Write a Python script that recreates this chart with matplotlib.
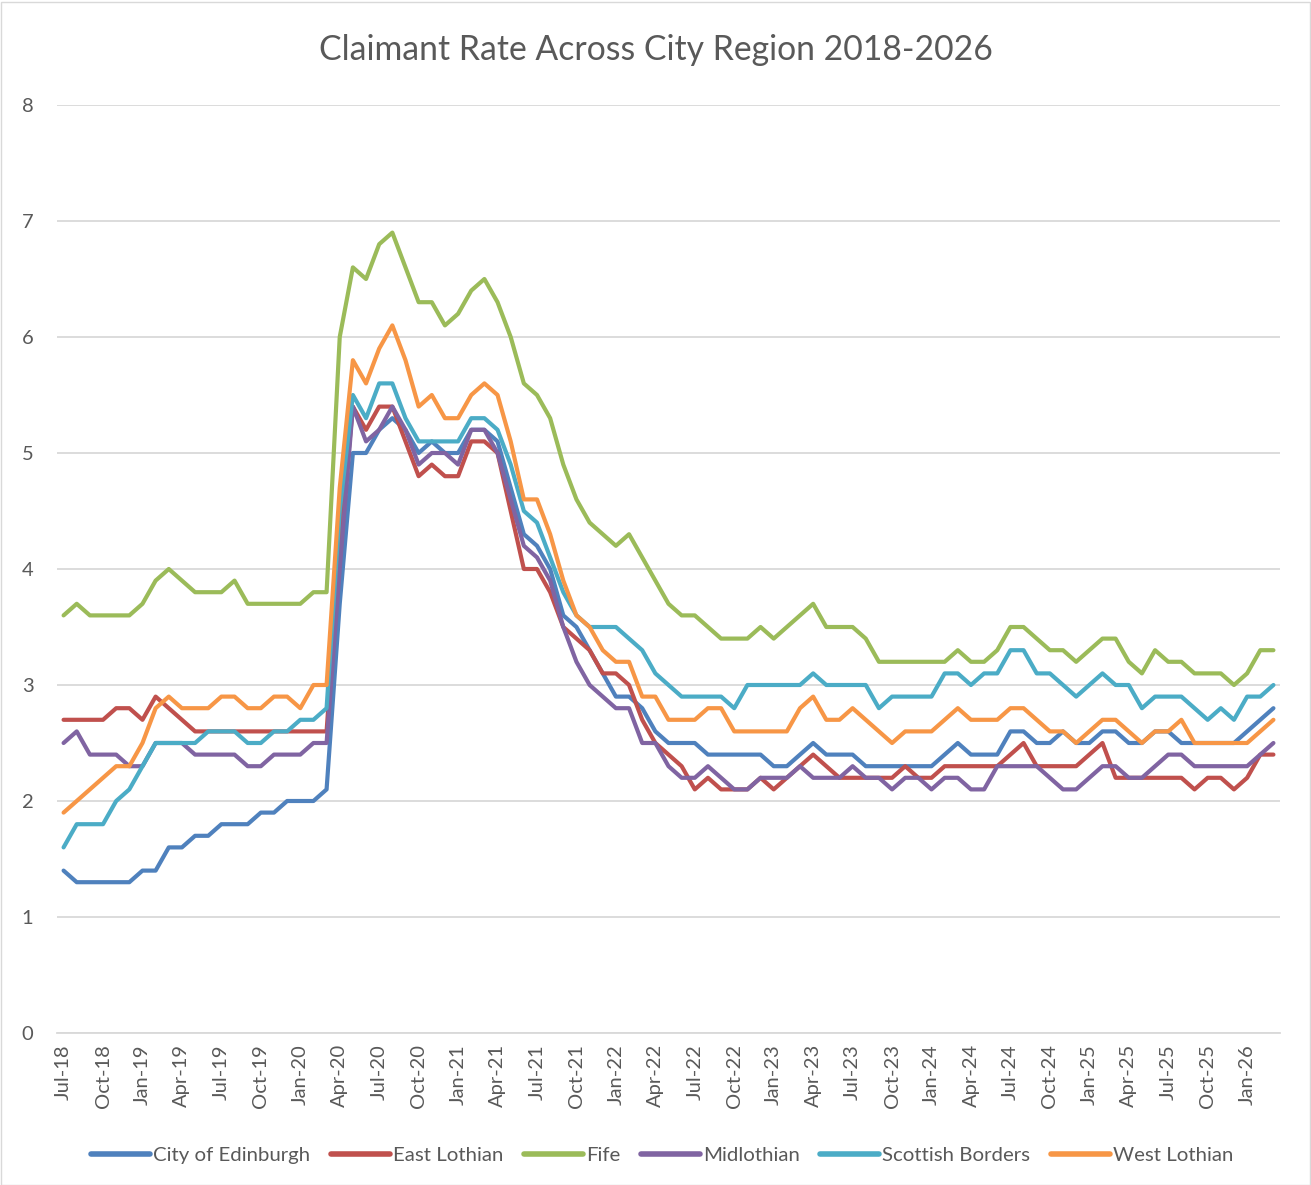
import matplotlib
matplotlib.use("Agg")
import matplotlib.pyplot as plt
import pandas as pd
from matplotlib.patches import Rectangle

plt.rcParams['font.family'] = ['Lato', 'DejaVu Sans']

months = pd.date_range("2018-07-01", periods=93, freq="MS").strftime("%b-%y").tolist()

edinburgh = [1.4,1.3,1.3,1.3,1.3,1.3,1.4,1.4,1.6,1.6,1.7,1.7,1.8,1.8,1.8,1.9,
             1.9,2.0,2.0,2.0,2.1,
             3.7,5.0,5.0,5.2,5.3,5.2,5.0,5.1,5.0,
             5.0,5.2,5.2,5.1,
             4.7,4.3,4.2,4.0,3.6,3.5,3.3,3.1,2.9,2.9,2.8,
             2.6,2.5,2.5,2.5,2.4,2.4,2.4,2.4,2.4,2.3,2.3,2.4,2.5,2.4,2.4,2.4,
             2.3,2.3,2.3,2.3,2.3,2.3,2.4,2.5,2.4,2.4,2.4,2.6,2.6,2.5,2.5,2.6,
             2.5,2.5,2.6,2.6,2.5,2.5,2.6,2.6,2.5,2.5,2.5,2.5,2.5,2.6,2.7,2.8]

east_lothian = [2.7,2.7,2.7,2.7,2.8,2.8,2.7,2.9,2.8,2.7,2.6,2.6,2.6,2.6,2.6,2.6,
                2.6,2.6,2.6,2.6,2.6,
                4.2,5.4,5.2,5.4,5.4,5.1,4.8,4.9,4.8,
                4.8,5.1,5.1,5.0,
                4.5,4.0,4.0,3.8,3.5,3.4,3.3,3.1,3.1,3.0,2.7,
                2.5,2.4,2.3,2.1,2.2,2.1,2.1,2.1,2.2,2.1,2.2,2.3,2.4,2.3,2.2,2.2,
                2.2,2.2,2.2,2.3,2.2,2.2,2.3,2.3,2.3,2.3,2.3,2.4,2.5,2.3,2.3,2.3,
                2.3,2.4,2.5,2.2,2.2,2.2,2.2,2.2,2.2,2.1,2.2,2.2,2.1,2.2,2.4,2.4]

fife = [3.6,3.7,3.6,3.6,3.6,3.6,3.7,3.9,4.0,3.9,3.8,3.8,3.8,3.9,3.7,3.7,
        3.7,3.7,3.7,3.8,3.8,
        6.0,6.6,6.5,6.8,6.9,6.6,6.3,6.3,6.1,
        6.2,6.4,6.5,6.3,
        6.0,5.6,5.5,5.3,4.9,4.6,4.4,4.3,4.2,4.3,4.1,
        3.9,3.7,3.6,3.6,3.5,3.4,3.4,3.4,3.5,3.4,3.5,3.6,3.7,3.5,3.5,3.5,
        3.4,3.2,3.2,3.2,3.2,3.2,3.2,3.3,3.2,3.2,3.3,3.5,3.5,3.4,3.3,3.3,
        3.2,3.3,3.4,3.4,3.2,3.1,3.3,3.2,3.2,3.1,3.1,3.1,3.0,3.1,3.3,3.3]

midlothian = [2.5,2.6,2.4,2.4,2.4,2.3,2.3,2.5,2.5,2.5,2.4,2.4,2.4,2.4,2.3,2.3,
              2.4,2.4,2.4,2.5,2.5,
              4.0,5.4,5.1,5.2,5.4,5.2,4.9,5.0,5.0,
              4.9,5.2,5.2,5.0,
              4.6,4.2,4.1,3.9,3.5,3.2,3.0,2.9,2.8,2.8,2.5,
              2.5,2.3,2.2,2.2,2.3,2.2,2.1,2.1,2.2,2.2,2.2,2.3,2.2,2.2,2.2,2.3,
              2.2,2.2,2.1,2.2,2.2,2.1,2.2,2.2,2.1,2.1,2.3,2.3,2.3,2.3,2.2,2.1,
              2.1,2.2,2.3,2.3,2.2,2.2,2.3,2.4,2.4,2.3,2.3,2.3,2.3,2.3,2.4,2.5]

scottish_borders = [1.6,1.8,1.8,1.8,2.0,2.1,2.3,2.5,2.5,2.5,2.5,2.6,2.6,2.6,2.5,2.5,
                    2.6,2.6,2.7,2.7,2.8,
                    4.5,5.5,5.3,5.6,5.6,5.3,5.1,5.1,5.1,
                    5.1,5.3,5.3,5.2,
                    4.9,4.5,4.4,4.1,3.8,3.6,3.5,3.5,3.5,3.4,3.3,
                    3.1,3.0,2.9,2.9,2.9,2.9,2.8,3.0,3.0,3.0,3.0,3.0,3.1,3.0,3.0,3.0,
                    3.0,2.8,2.9,2.9,2.9,2.9,3.1,3.1,3.0,3.1,3.1,3.3,3.3,3.1,3.1,3.0,
                    2.9,3.0,3.1,3.0,3.0,2.8,2.9,2.9,2.9,2.8,2.7,2.8,2.7,2.9,2.9,3.0]

west_lothian = [1.9,2.0,2.1,2.2,2.3,2.3,2.5,2.8,2.9,2.8,2.8,2.8,2.9,2.9,2.8,2.8,
                2.9,2.9,2.8,3.0,3.0,
                4.7,5.8,5.6,5.9,6.1,5.8,5.4,5.5,5.3,
                5.3,5.5,5.6,5.5,
                5.1,4.6,4.6,4.3,3.9,3.6,3.5,3.3,3.2,3.2,2.9,
                2.9,2.7,2.7,2.7,2.8,2.8,2.6,2.6,2.6,2.6,2.6,2.8,2.9,2.7,2.7,2.8,
                2.7,2.6,2.5,2.6,2.6,2.6,2.7,2.8,2.7,2.7,2.7,2.8,2.8,2.7,2.6,2.6,
                2.5,2.6,2.7,2.7,2.6,2.5,2.6,2.6,2.7,2.5,2.5,2.5,2.5,2.5,2.6,2.7]

series_names = ["City of Edinburgh", "East Lothian", "Fife", "Midlothian",
                "Scottish Borders", "West Lothian"]
series_values = [edinburgh, east_lothian, fife, midlothian, scottish_borders, west_lothian]
colors = ["#4F81BD", "#C0504D", "#9BBB59", "#8064A2", "#4BACC6", "#F79646"]

title = "Claimant Rate Across City Region 2018-2026"
yticks = [0, 1, 2, 3, 4, 5, 6, 7, 8]

W, H = 1311, 1185
fig = plt.figure(figsize=(W / 100, H / 100), dpi=100)
ax = fig.add_axes([57 / W, 1 - 1033 / H, (1280 - 57) / W, (1033 - 105) / H])

x = list(range(len(months)))
for name, vals, c in zip(series_names, series_values, colors):
    ax.plot(x, vals, color=c, lw=3.0, label=name, solid_joinstyle="round",
            solid_capstyle="round")

ax.set_xlim(-0.5, len(months) - 0.5)
ax.set_ylim(0, 8)
ax.set_yticks(yticks)
ax.set_yticklabels([str(v) for v in yticks])
ax.yaxis.grid(True, color="#D9D9D9", lw=1.3)
ax.set_axisbelow(True)

tick_pos = list(range(0, len(months), 3))
ax.set_xticks(tick_pos)
ax.set_xticklabels([months[i] for i in tick_pos], rotation=90)

for s in ["top", "right", "left"]:
    ax.spines[s].set_visible(False)
ax.spines["bottom"].set_color("#D9D9D9")
ax.spines["bottom"].set_linewidth(1.3)

ax.tick_params(axis="y", length=0, pad=17, labelsize=14.5, labelcolor="#595959")
ax.tick_params(axis="x", length=0, pad=8, labelsize=14.5, labelcolor="#595959")

fig.text(0.5, 1 - 50 / H, title, ha="center", va="center", fontsize=24.3,
         color="#595959")

leg = fig.legend(loc="center", bbox_to_anchor=(0.505, 1 - 1155 / H), ncol=6,
                 frameon=False, fontsize=14.7, handlelength=2.9, columnspacing=1.0,
                 handletextpad=0.15, labelcolor="#595959")
for h in leg.get_lines():
    h.set_linewidth(4)

fig.patches.append(Rectangle((0.5 / W, 0.5 / H), 1 - 2 / W, 1 - 2 / H,
                             transform=fig.transFigure, fill=False,
                             edgecolor="#D9D9D9", lw=1.0))

fig.savefig("out.png", dpi=100)
